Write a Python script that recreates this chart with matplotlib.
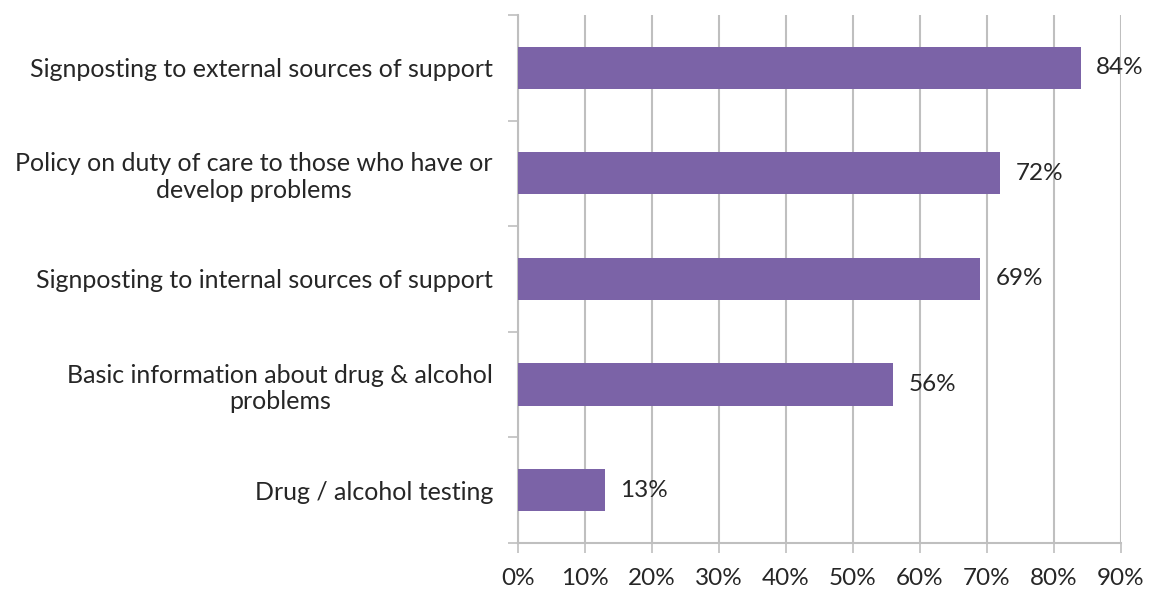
import matplotlib.pyplot as plt
from matplotlib.ticker import FixedLocator, PercentFormatter

# data
categories = [
    "Signposting to external sources of support",
    "Policy on duty of care to those who have or\ndevelop problems",
    "Signposting to internal sources of support",
    "Basic information about drug & alcohol\nproblems",
    "Drug / alcohol testing",
]
values = [84, 72, 69, 56, 13]
x_ticks = [0, 10, 20, 30, 40, 50, 60, 70, 80, 90]

bar_color = "#7B63A7"
grid_color = "#BFBFBF"
text_color = "#262626"

plt.rcParams['font.family'] = ['Lato', 'DejaVu Sans']

fig = plt.figure(figsize=(11.49, 5.92), dpi=100)
ax = fig.add_axes([0.4508, 0.0828, 0.9756 - 0.4508, 0.9747 - 0.0828])

ypos = list(range(len(categories)))
bars = ax.barh(ypos, values, height=0.4, color=bar_color, zorder=3)

for y, v in zip(ypos, values):
    ax.annotate(f"{v}%", xy=(v, y), xytext=(11, 0), textcoords="offset points",
                va="center", ha="left", fontsize=17.5, color=text_color)

ax.set_xlim(0, 90)
ax.set_ylim(len(categories) - 0.5, -0.5)
ax.set_xticks(x_ticks)
ax.xaxis.set_major_formatter(PercentFormatter(decimals=0))
ax.set_yticks(ypos)
ax.set_yticklabels(categories)
for lab in ax.get_yticklabels():
    lab.set_multialignment("center")
ax.yaxis.set_minor_locator(FixedLocator([i - 0.5 for i in range(len(categories) + 1)]))

ax.tick_params(axis="y", which="major", length=0, pad=18, labelsize=18, labelcolor=text_color)
ax.tick_params(axis="y", which="minor", length=7, width=1.2, color=grid_color)
ax.tick_params(axis="x", which="major", length=7, width=1.2, color=grid_color,
               pad=11, labelsize=17.5, labelcolor=text_color)

ax.grid(axis="x", color=grid_color, linewidth=1.5, zorder=0)
for side in ["top", "right"]:
    ax.spines[side].set_visible(False)
for side in ["left", "bottom"]:
    ax.spines[side].set_color(grid_color)
    ax.spines[side].set_linewidth(1.5)

plt.savefig("out.png", dpi=100)
